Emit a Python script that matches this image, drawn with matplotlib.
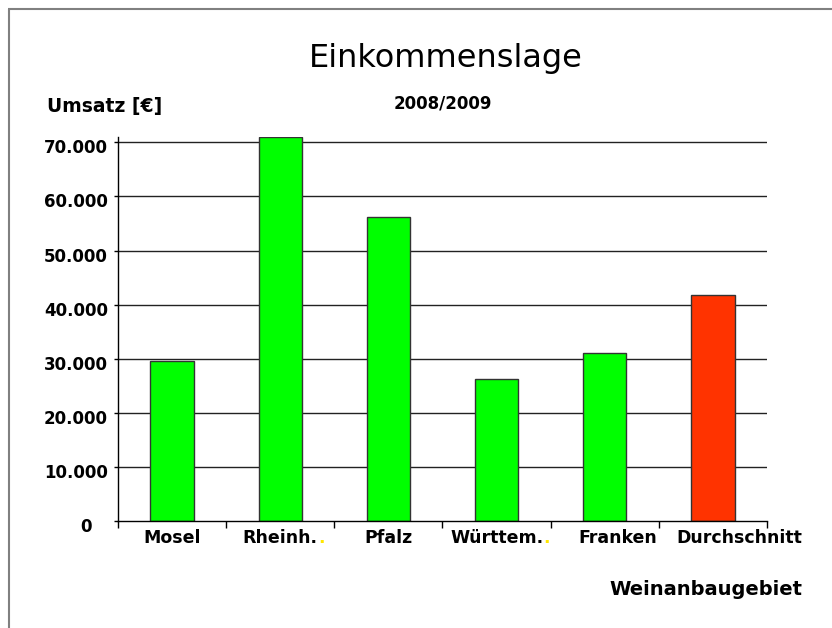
import matplotlib
matplotlib.use("Agg")
import matplotlib.pyplot as plt
import matplotlib.transforms as mtransforms
from matplotlib.lines import Line2D

# ---- data ----
categories = ["Mosel", "Rheinh.", "Pfalz", "Württem.", "Franken", "Durchschnitt"]
yellow_dot = [False, True, False, True, False, False]
values = [29600, 71000, 56300, 26200, 31000, 41800]
bar_colors = ["#00FF00", "#00FF00", "#00FF00", "#00FF00", "#00FF00", "#FF3300"]
y_ticks = [0, 10000, 20000, 30000, 40000, 50000, 60000, 70000]
y_tick_labels = ["0", "10.000", "20.000", "30.000", "40.000", "50.000", "60.000", "70.000"]
title = "Einkommenslage"
subtitle = "2008/2009"
y_title = "Umsatz [€]"
x_title = "Weinanbaugebiet"

W, H = 832, 628
fig = plt.figure(figsize=(W / 100, H / 100), dpi=100)
fig.patch.set_facecolor("white")

def fx(px):
    return px / W

def fy(py):
    return 1 - py / H

ax = fig.add_axes([fx(118), fy(521), fx(767) - fx(118), fy(137) - fy(521)])
ax.set_xlim(-0.5, len(categories) - 0.5)
ax.set_ylim(0, 71000)

# grid lines
for v in y_ticks[1:]:
    ax.axhline(v, color="#222222", lw=1.0, zorder=1)

x = list(range(len(categories)))
ax.bar(x, values, width=0.4, color=bar_colors, edgecolor="#333333", linewidth=1.0, zorder=3)

for s in ["top", "right"]:
    ax.spines[s].set_visible(False)
for s in ["left", "bottom"]:
    ax.spines[s].set_color("black")
    ax.spines[s].set_linewidth(1.0)
    ax.spines[s].set_zorder(4)

ax.set_yticks(y_ticks)
ax.set_yticklabels([])
ax.tick_params(axis="y", length=3, width=1, color="black", direction="out")

ax.set_xticks(x)
ax.set_xticklabels([])
ax.tick_params(axis="x", which="major", length=0)
ax.set_xticks([i - 0.5 for i in range(len(categories) + 1)], minor=True)
ax.tick_params(axis="x", which="minor", length=5, width=1, color="black", direction="out")

font_bold = dict(family="DejaVu Sans", weight="bold", color="black")

# y tick labels
for v, lab in zip(y_ticks, y_tick_labels):
    dx = -26 if v == 0 else -10
    tr = mtransforms.offset_copy(ax.get_yaxis_transform(), fig=fig, x=dx, y=-6, units="dots")
    ax.text(0, v, lab, transform=tr, ha="right", va="center", fontsize=12, **font_bold)

# x tick labels
nudges = [0, 0, 0, 0, 13, 26]
for i, (lab, dot, nd) in enumerate(zip(categories, yellow_dot, nudges)):
    tr = mtransforms.offset_copy(ax.get_xaxis_transform(), fig=fig, x=nd, y=-22, units="dots")
    t = ax.text(i, 0, lab, transform=tr, ha="center", va="baseline", fontsize=12.5, **font_bold)
    if dot:
        ax.annotate(".", xy=(1, 0), xycoords=t, xytext=(0, 0), textcoords="offset points",
                    ha="left", va="bottom", fontsize=12.5, family="DejaVu Sans",
                    weight="bold", color="#FFE600")

# titles
fig.text(fx(446), fy(67), title, ha="center", va="baseline", fontsize=23,
         family="DejaVu Sans", color="black")
fig.text(fx(443), fy(108), subtitle, ha="center", va="baseline", fontsize=12, **font_bold)
fig.text(fx(47), fy(112), y_title, ha="left", va="baseline", fontsize=13.5, **font_bold)
fig.text(fx(802), fy(595), x_title, ha="right", va="baseline", fontsize=14, **font_bold)

# figure border (top and left visible)
fig.add_artist(Line2D([fx(9), fx(9)], [0, fy(9)], transform=fig.transFigure,
                      color="#808080", lw=1.5, solid_capstyle="butt"))
fig.add_artist(Line2D([fx(8), 1], [fy(9), fy(9)], transform=fig.transFigure,
                      color="#808080", lw=1.5, solid_capstyle="butt"))

fig.savefig("out.png", dpi=100)
